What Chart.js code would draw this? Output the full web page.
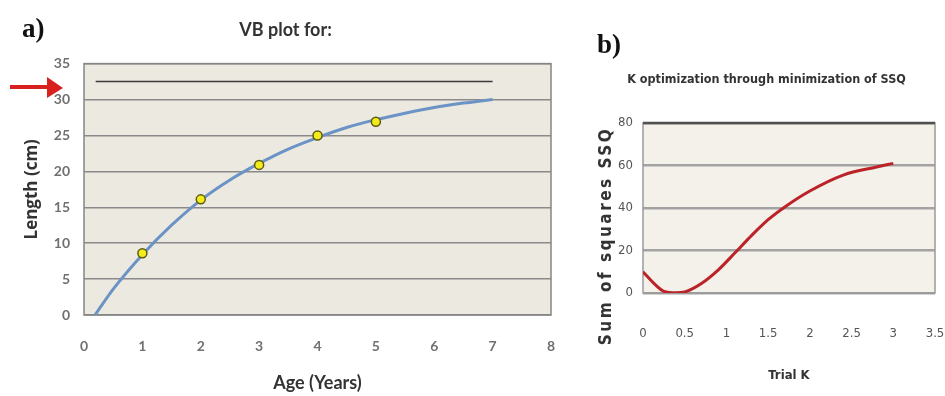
<!DOCTYPE html>
<html>
<head>
<meta charset="utf-8">
<script src="https://cdn.jsdelivr.net/npm/chart.js@4/dist/chart.umd.min.js"></script>
<style>
  body { margin: 0; background: #fff; }
  #wrap { position: relative; width: 945px; height: 396px; overflow: hidden; }
  #vbBox { position: absolute; left: 0; top: 0; }
  #ssqBox { position: absolute; left: 580px; top: 0; }
  .panel { position: absolute; font-family: "Liberation Serif", "DejaVu Serif", serif; font-weight: bold; font-size: 27px; color: #111; }
  #ssqTitle {
    position: absolute; left: 605px; top: 236px;
    transform: translate(-50%, -50%) rotate(-90deg);
    white-space: nowrap;
    font-family: "DejaVu Sans Condensed", sans-serif;
    font-weight: bold; font-size: 17px; letter-spacing: 2.5px; color: #333;
  }
  #arrow { position: absolute; left: 0; top: 0; }
</style>
</head>
<body>
<div id="wrap">
  <div id="vbBox"><canvas id="vbCanvas" width="580" height="396"></canvas></div>
  <div id="ssqBox"><canvas id="ssqCanvas" width="400" height="396"></canvas></div>
  <div class="panel" style="left:22px; top:13px;">a)</div>
  <div class="panel" style="left:597px; top:29px;">b)</div>
  <div id="ssqTitle">Sum of squares SSQ</div>
  <svg id="arrow" width="70" height="110">
    <line x1="10" y1="87" x2="50" y2="87" stroke="#d8201f" stroke-width="4"/>
    <polygon points="47,77 63,88 47,98" fill="#d8201f"/>
  </svg>
</div>
<script>
// a) von Bertalanffy growth plot
const ageTicks = [0, 1, 2, 3, 4, 5, 6, 7, 8];
const lengthTicks = [0, 5, 10, 15, 20, 25, 30, 35];
const obsAge = [1, 2, 3, 4, 5];
const obsLength = [8.6, 16.1, 20.9, 25.0, 26.9];
const fitAge = [0.19, 0.5, 1, 1.5, 2, 2.5, 3, 3.5, 4, 4.5, 5, 5.5, 6, 6.5, 7];
const fitLength = [0, 3.6, 8.4, 12.5, 16.0, 18.8, 21.1, 23.1, 24.7, 26.1, 27.2, 28.1, 28.9, 29.5, 30.0];
const linfAge = [0.2, 7];
const linfLength = [32.5, 32.5];

// b) K optimization
const kTicks = [0, 0.5, 1, 1.5, 2, 2.5, 3, 3.5];
const ssqTicks = [0, 20, 40, 60, 80];
const trialK = [0, 0.15, 0.25, 0.4, 0.5, 0.7, 0.9, 1.1, 1.3, 1.5, 1.7, 2.0, 2.4, 2.8, 3.0];
const ssqValues = [10, 3.8, 0.8, 0.1, 0.5, 4.5, 10.8, 18.8, 27, 34.5, 40.5, 48, 55.5, 59.3, 61];

const toPoints = (xs, ys) => xs.map((x, i) => ({ x: x, y: ys[i] }));
const fixTicks = list => scale => { scale.ticks = list.map(v => ({ value: v })); };

// fills the plot area and draws the frame like the Excel charts
const plotFrame = {
  id: 'plotFrame',
  beforeDraw(chart, args, opts) {
    const { ctx, chartArea: a } = chart;
    ctx.save();
    ctx.fillStyle = opts.color;
    ctx.fillRect(a.left, a.top, a.width, a.height);
    ctx.restore();
  },
  beforeDatasetsDraw(chart, args, opts) {
    const { ctx, chartArea: a } = chart;
    ctx.save();
    ctx.strokeStyle = opts.border;
    ctx.lineWidth = 1.5;
    ctx.strokeRect(a.left, a.top, a.width, a.height);
    if (opts.topBorder) {
      ctx.strokeStyle = opts.topBorder;
      ctx.lineWidth = 2.5;
      ctx.beginPath();
      ctx.moveTo(a.left, a.top);
      ctx.lineTo(a.right, a.top);
      ctx.stroke();
    }
    ctx.restore();
  }
};

const wideFont = 'Lato, "Open Sans", sans-serif';
const narrowFont = '"DejaVu Sans Condensed", sans-serif';

new Chart(document.getElementById('vbCanvas'), {
  type: 'scatter',
  data: {
    datasets: [{
      data: toPoints(obsAge, obsLength),
      pointRadius: 4.5,
      pointBackgroundColor: '#f2ec1c',
      pointBorderColor: '#5d5a10',
      pointBorderWidth: 1.5,
      showLine: false
    }, {
      data: toPoints(fitAge, fitLength),
      showLine: true,
      borderColor: '#6b93c6',
      borderWidth: 3,
      pointRadius: 0,
      cubicInterpolationMode: 'monotone'
    }, {
      data: toPoints(linfAge, linfLength),
      showLine: true,
      borderColor: '#3a3a3a',
      borderWidth: 1.5,
      pointRadius: 0
    }]
  },
  options: {
    responsive: false,
    animation: false,
    layout: { padding: { left: 20, right: 29, top: 0, bottom: 0 } },
    plugins: {
      legend: { display: false },
      tooltip: { enabled: false },
      title: {
        display: true,
        text: 'VB plot for:',
        color: '#333',
        font: { family: wideFont, size: 18, weight: 'bold' },
        padding: { top: 19, bottom: 23 }
      },
      plotFrame: { color: '#ece9e0', border: '#858585' }
    },
    scales: {
      x: {
        min: 0, max: 8,
        afterBuildTicks: fixTicks(ageTicks),
        afterFit: s => { s.height = 81; },
        grid: { display: false },
        border: { display: false },
        ticks: { padding: 15, color: '#707070', font: { family: wideFont, size: 14, weight: 'bold' } },
        title: {
          display: true, text: 'Age (Years)', color: '#333',
          font: { family: wideFont, size: 18, weight: 'bold' },
          padding: { top: 0, bottom: 2 }
        }
      },
      y: {
        min: 0, max: 35,
        afterBuildTicks: fixTicks(lengthTicks),
        afterFit: s => { s.width = 64; },
        grid: { color: '#8a8a8a', lineWidth: 1.5, drawTicks: false },
        border: { display: false },
        ticks: { padding: 14, color: '#707070', font: { family: wideFont, size: 14, weight: 'bold' } },
        title: {
          display: true, text: 'Length (cm)', color: '#333',
          font: { family: '"Open Sans", sans-serif', size: 17, weight: 'bold' },
          padding: { top: 2, bottom: 0 }
        }
      }
    }
  },
  plugins: [plotFrame]
});

new Chart(document.getElementById('ssqCanvas'), {
  type: 'scatter',
  data: {
    datasets: [{
      data: toPoints(trialK, ssqValues),
      showLine: true,
      borderColor: '#bb2328',
      borderWidth: 3,
      pointRadius: 0,
      cubicInterpolationMode: 'monotone'
    }]
  },
  options: {
    responsive: false,
    animation: false,
    // the right side runs past the window edge so the x labels' padding
    // does not squeeze the scale
    layout: { padding: { left: 18, right: 45, top: 0, bottom: 0 } },
    plugins: {
      legend: { display: false },
      tooltip: { enabled: false },
      title: {
        display: true,
        text: 'K optimization through minimization of SSQ',
        color: '#333',
        font: { family: narrowFont, size: 12.5, weight: 'bold' },
        padding: { top: 72, bottom: 36 }
      },
      plotFrame: { color: '#f3f1e9', border: '#9a9a9a', topBorder: '#505050' }
    },
    scales: {
      x: {
        min: 0, max: 3.5,
        afterBuildTicks: fixTicks(kTicks),
        afterFit: s => { s.height = 103; },
        grid: { display: false },
        border: { display: false },
        ticks: { padding: 25, color: '#555', font: { family: narrowFont, size: 13 }, callback: v => String(v) },
        title: {
          display: true, text: 'Trial K', color: '#333',
          font: { family: narrowFont, size: 13, weight: 'bold' },
          padding: { top: 0, bottom: 13 }
        }
      },
      y: {
        min: 0, max: 80,
        afterBuildTicks: fixTicks(ssqTicks),
        afterFit: s => { s.width = 45; },
        grid: { color: '#a3a3a3', lineWidth: 2.5, drawTicks: false },
        border: { display: false },
        ticks: { padding: 10, color: '#555', font: { family: narrowFont, size: 13 }, callback: v => String(v) }
      }
    }
  },
  plugins: [plotFrame]
});
</script>
</body>
</html>
